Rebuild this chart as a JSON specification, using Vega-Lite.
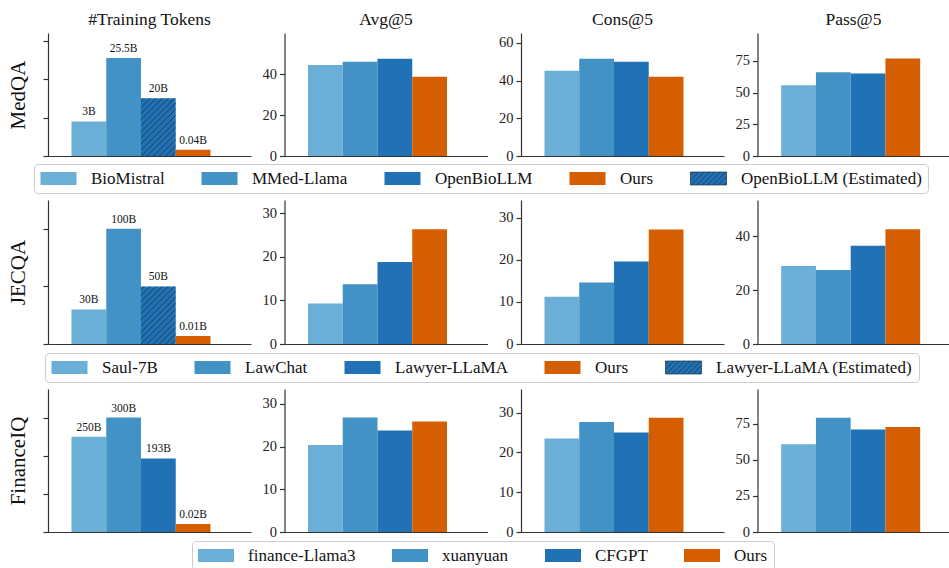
{
  "$schema": "https://vega.github.io/schema/vega-lite/v6.json",
  "background": "white",
  "padding": {"left": 7, "top": 10, "right": 0, "bottom": 0},
  "autosize": {"type": "pad"},
  "spacing": 6,
  "data": {"values": [
    {"ds": "MedQA", "metric": "tokens", "slot": 1, "model": "BioMistral", "value": 9.0, "label": "3B"},
    {"ds": "MedQA", "metric": "tokens", "slot": 2, "model": "MMed-Llama", "value": 25.5, "label": "25.5B"},
    {"ds": "MedQA", "metric": "tokens", "slot": 3, "model": "OpenBioLLM (Estimated)", "value": 15.0, "label": "20B"},
    {"ds": "MedQA", "metric": "tokens", "slot": 4, "model": "Ours", "value": 1.6, "label": "0.04B"},
    {"ds": "MedQA", "metric": "Avg@5", "slot": 1, "model": "BioMistral", "value": 44.4},
    {"ds": "MedQA", "metric": "Avg@5", "slot": 2, "model": "MMed-Llama", "value": 46.0},
    {"ds": "MedQA", "metric": "Avg@5", "slot": 3, "model": "OpenBioLLM", "value": 47.5},
    {"ds": "MedQA", "metric": "Avg@5", "slot": 4, "model": "Ours", "value": 38.7},
    {"ds": "MedQA", "metric": "Cons@5", "slot": 1, "model": "BioMistral", "value": 45.3},
    {"ds": "MedQA", "metric": "Cons@5", "slot": 2, "model": "MMed-Llama", "value": 51.6},
    {"ds": "MedQA", "metric": "Cons@5", "slot": 3, "model": "OpenBioLLM", "value": 50.0},
    {"ds": "MedQA", "metric": "Cons@5", "slot": 4, "model": "Ours", "value": 42.1},
    {"ds": "MedQA", "metric": "Pass@5", "slot": 1, "model": "BioMistral", "value": 55.8},
    {"ds": "MedQA", "metric": "Pass@5", "slot": 2, "model": "MMed-Llama", "value": 66.0},
    {"ds": "MedQA", "metric": "Pass@5", "slot": 3, "model": "OpenBioLLM", "value": 65.0},
    {"ds": "MedQA", "metric": "Pass@5", "slot": 4, "model": "Ours", "value": 76.8},
    {"ds": "JECQA", "metric": "tokens", "slot": 1, "model": "Saul-7B", "value": 30, "label": "30B"},
    {"ds": "JECQA", "metric": "tokens", "slot": 2, "model": "LawChat", "value": 100, "label": "100B"},
    {"ds": "JECQA", "metric": "tokens", "slot": 3, "model": "Lawyer-LLaMA (Estimated)", "value": 50, "label": "50B"},
    {"ds": "JECQA", "metric": "tokens", "slot": 4, "model": "Ours", "value": 7, "label": "0.01B"},
    {"ds": "JECQA", "metric": "Avg@5", "slot": 1, "model": "Saul-7B", "value": 9.3},
    {"ds": "JECQA", "metric": "Avg@5", "slot": 2, "model": "LawChat", "value": 13.7},
    {"ds": "JECQA", "metric": "Avg@5", "slot": 3, "model": "Lawyer-LLaMA", "value": 18.8},
    {"ds": "JECQA", "metric": "Avg@5", "slot": 4, "model": "Ours", "value": 26.3},
    {"ds": "JECQA", "metric": "Cons@5", "slot": 1, "model": "Saul-7B", "value": 11.2},
    {"ds": "JECQA", "metric": "Cons@5", "slot": 2, "model": "LawChat", "value": 14.6},
    {"ds": "JECQA", "metric": "Cons@5", "slot": 3, "model": "Lawyer-LLaMA", "value": 19.6},
    {"ds": "JECQA", "metric": "Cons@5", "slot": 4, "model": "Ours", "value": 27.2},
    {"ds": "JECQA", "metric": "Pass@5", "slot": 1, "model": "Saul-7B", "value": 29.0},
    {"ds": "JECQA", "metric": "Pass@5", "slot": 2, "model": "LawChat", "value": 27.5},
    {"ds": "JECQA", "metric": "Pass@5", "slot": 3, "model": "Lawyer-LLaMA", "value": 36.5},
    {"ds": "JECQA", "metric": "Pass@5", "slot": 4, "model": "Ours", "value": 42.6},
    {"ds": "FinanceIQ", "metric": "tokens", "slot": 1, "model": "finance-Llama3", "value": 250, "label": "250B"},
    {"ds": "FinanceIQ", "metric": "tokens", "slot": 2, "model": "xuanyuan", "value": 300, "label": "300B"},
    {"ds": "FinanceIQ", "metric": "tokens", "slot": 3, "model": "CFGPT", "value": 193, "label": "193B"},
    {"ds": "FinanceIQ", "metric": "tokens", "slot": 4, "model": "Ours", "value": 21, "label": "0.02B"},
    {"ds": "FinanceIQ", "metric": "Avg@5", "slot": 1, "model": "finance-Llama3", "value": 20.4},
    {"ds": "FinanceIQ", "metric": "Avg@5", "slot": 2, "model": "xuanyuan", "value": 26.8},
    {"ds": "FinanceIQ", "metric": "Avg@5", "slot": 3, "model": "CFGPT", "value": 23.8},
    {"ds": "FinanceIQ", "metric": "Avg@5", "slot": 4, "model": "Ours", "value": 25.9},
    {"ds": "FinanceIQ", "metric": "Cons@5", "slot": 1, "model": "finance-Llama3", "value": 23.5},
    {"ds": "FinanceIQ", "metric": "Cons@5", "slot": 2, "model": "xuanyuan", "value": 27.6},
    {"ds": "FinanceIQ", "metric": "Cons@5", "slot": 3, "model": "CFGPT", "value": 25.0},
    {"ds": "FinanceIQ", "metric": "Cons@5", "slot": 4, "model": "Ours", "value": 28.7},
    {"ds": "FinanceIQ", "metric": "Pass@5", "slot": 1, "model": "finance-Llama3", "value": 60.7},
    {"ds": "FinanceIQ", "metric": "Pass@5", "slot": 2, "model": "xuanyuan", "value": 79.1},
    {"ds": "FinanceIQ", "metric": "Pass@5", "slot": 3, "model": "CFGPT", "value": 70.9},
    {"ds": "FinanceIQ", "metric": "Pass@5", "slot": 4, "model": "Ours", "value": 72.7}
  ]},
  "resolve": {"scale": {"color": "independent"}, "legend": {"color": "independent"}},
  "vconcat": [
    {
      "bounds": "flush",
      "spacing": 33.5,
      "hconcat": [
        {
          "width": 203, "height": 123,
          "title": "#Training Tokens",
          "transform": [{"filter": "datum.ds === 'MedQA' && datum.metric === 'tokens'"}],
          "encoding": {
            "x": {"field": "slot", "type": "ordinal", "scale": {"paddingInner": 0, "paddingOuter": 0.921, "align": 0.367}, "axis": {"title": null, "labels": false, "ticks": false}},
            "y": {"field": "value", "type": "quantitative", "scale": {"domain": [0, 32], "nice": false}, "axis": {"values": [0, 10, 20, 30], "labels": false, "title": "MedQA"}}
          },
          "layer": [
            {"mark": {"type": "bar"}, "encoding": {"color": {"field": "model", "type": "nominal",
              "scale": {"domain": ["BioMistral", "MMed-Llama", "OpenBioLLM", "Ours", "OpenBioLLM (Estimated)"], "range": ["#6baed6", "#4292c6", "#2171b5", "#d55e00", "#2171b5"]},
              "legend": {"title": null, "legendX": -14, "legendY": 131,
                "encode": {"symbols": {"update": {
                  "shape": {"signal": "indexof(datum.value, 'Estimated') >= 0 ? 'M-1,-0.36H1V0.36H-1ZM-0.84,-0.36L-1,-0.2M-0.54,-0.36L-1,0.1M-0.24,-0.36L-0.96,0.36M0.06,-0.36L-0.66,0.36M0.36,-0.36L-0.36,0.36M0.66,-0.36L-0.06,0.36M0.96,-0.36L0.24,0.36M1,-0.1L0.54,0.36M1,0.2L0.84,0.36' : 'M-1,-0.36H1V0.36H-1Z'"},
                  "stroke": {"signal": "indexof(datum.value, 'Estimated') >= 0 ? '#1c3047' : 'transparent'"},
                  "strokeWidth": {"value": 0.7}}}}}}}},
            {"transform": [{"filter": "indexof(datum.model, 'Estimated') >= 0"}],
             "mark": {"type": "point", "shape": "M-0.825,0L-1,0.175M-0.475,0L-1,0.525M-0.125,0L-1,0.875M0.225,0L-1,1.225M0.575,0L-1,1.575M0.925,0L-1,1.925M1,0.275L-1,2.275M1,0.625L-1,2.625M1,0.975L-1,2.975M1,1.325L-0.985,3.31M1,1.675L-0.635,3.31M1,2.025L-0.285,3.31M1,2.375L0.065,3.31M1,2.725L0.415,3.31M1,3.075L0.765,3.31", "filled": false, "stroke": "#1c3047", "strokeWidth": 0.8, "size": 1207.6, "opacity": 1}},
            {"mark": {"type": "text", "dy": -6, "baseline": "alphabetic", "font": "Liberation Serif", "fontSize": 11.5, "color": "#111111"}, "encoding": {"text": {"field": "label"}}}
          ]
        },
        {
          "width": 203, "height": 123, "title": "Avg@5",
          "transform": [{"filter": "datum.ds === 'MedQA' && datum.metric === 'Avg@5'"}],
          "mark": "bar",
          "encoding": {
            "x": {"field": "slot", "type": "ordinal", "scale": {"paddingInner": 0, "paddingOuter": 0.921, "align": 0.367}, "axis": {"title": null, "labels": false, "ticks": false}},
            "y": {"field": "value", "type": "quantitative", "scale": {"domain": [0, 60], "nice": false}, "axis": {"values": [0, 20, 40], "title": null}},
            "color": {"field": "model", "type": "nominal", "scale": {"domain": ["BioMistral", "MMed-Llama", "OpenBioLLM", "Ours", "OpenBioLLM (Estimated)"], "range": ["#6baed6", "#4292c6", "#2171b5", "#d55e00", "#2171b5"]}, "legend": null}
          }
        },
        {
          "width": 203, "height": 123, "title": "Cons@5",
          "transform": [{"filter": "datum.ds === 'MedQA' && datum.metric === 'Cons@5'"}],
          "mark": "bar",
          "encoding": {
            "x": {"field": "slot", "type": "ordinal", "scale": {"paddingInner": 0, "paddingOuter": 0.921, "align": 0.367}, "axis": {"title": null, "labels": false, "ticks": false}},
            "y": {"field": "value", "type": "quantitative", "scale": {"domain": [0, 65.3], "nice": false}, "axis": {"values": [0, 20, 40, 60], "title": null}},
            "color": {"field": "model", "type": "nominal", "scale": {"domain": ["BioMistral", "MMed-Llama", "OpenBioLLM", "Ours", "OpenBioLLM (Estimated)"], "range": ["#6baed6", "#4292c6", "#2171b5", "#d55e00", "#2171b5"]}, "legend": null}
          }
        },
        {
          "width": 192, "height": 123, "title": "Pass@5",
          "transform": [{"filter": "datum.ds === 'MedQA' && datum.metric === 'Pass@5'"}],
          "mark": "bar",
          "encoding": {
            "x": {"field": "slot", "type": "ordinal", "scale": {"paddingInner": 0, "paddingOuter": 0.7626, "align": 0.447}, "axis": {"title": null, "labels": false, "ticks": false}},
            "y": {"field": "value", "type": "quantitative", "scale": {"domain": [0, 97], "nice": false}, "axis": {"values": [0, 25, 50, 75], "title": null}},
            "color": {"field": "model", "type": "nominal", "scale": {"domain": ["BioMistral", "MMed-Llama", "OpenBioLLM", "Ours", "OpenBioLLM (Estimated)"], "range": ["#6baed6", "#4292c6", "#2171b5", "#d55e00", "#2171b5"]}, "legend": null}
          }
        }
      ]
    },
    {
      "bounds": "flush",
      "spacing": 33.5,
      "hconcat": [
        {
          "width": 203, "height": 144,
          "transform": [{"filter": "datum.ds === 'JECQA' && datum.metric === 'tokens'"}],
          "encoding": {
            "x": {"field": "slot", "type": "ordinal", "scale": {"paddingInner": 0, "paddingOuter": 0.921, "align": 0.367}, "axis": {"title": null, "labels": false, "ticks": false}},
            "y": {"field": "value", "type": "quantitative", "scale": {"domain": [0, 125], "nice": false}, "axis": {"values": [0, 50, 100], "labels": false, "title": "JECQA"}}
          },
          "layer": [
            {"mark": {"type": "bar"}, "encoding": {"color": {"field": "model", "type": "nominal",
              "scale": {"domain": ["Saul-7B", "LawChat", "Lawyer-LLaMA", "Ours", "Lawyer-LLaMA (Estimated)"], "range": ["#6baed6", "#4292c6", "#2171b5", "#d55e00", "#2171b5"]},
              "legend": {"title": null, "legendX": -3, "legendY": 153,
                "encode": {"symbols": {"update": {
                  "shape": {"signal": "indexof(datum.value, 'Estimated') >= 0 ? 'M-1,-0.36H1V0.36H-1ZM-0.84,-0.36L-1,-0.2M-0.54,-0.36L-1,0.1M-0.24,-0.36L-0.96,0.36M0.06,-0.36L-0.66,0.36M0.36,-0.36L-0.36,0.36M0.66,-0.36L-0.06,0.36M0.96,-0.36L0.24,0.36M1,-0.1L0.54,0.36M1,0.2L0.84,0.36' : 'M-1,-0.36H1V0.36H-1Z'"},
                  "stroke": {"signal": "indexof(datum.value, 'Estimated') >= 0 ? '#1c3047' : 'transparent'"},
                  "strokeWidth": {"value": 0.7}}}}}}}},
            {"transform": [{"filter": "indexof(datum.model, 'Estimated') >= 0"}],
             "mark": {"type": "point", "shape": "M-0.825,0L-1,0.175M-0.475,0L-1,0.525M-0.125,0L-1,0.875M0.225,0L-1,1.225M0.575,0L-1,1.575M0.925,0L-1,1.925M1,0.275L-1,2.275M1,0.625L-1,2.625M1,0.975L-1,2.975M1,1.325L-0.985,3.31M1,1.675L-0.635,3.31M1,2.025L-0.285,3.31M1,2.375L0.065,3.31M1,2.725L0.415,3.31M1,3.075L0.765,3.31", "filled": false, "stroke": "#1c3047", "strokeWidth": 0.8, "size": 1207.6, "opacity": 1}},
            {"mark": {"type": "text", "dy": -6, "baseline": "alphabetic", "font": "Liberation Serif", "fontSize": 11.5, "color": "#111111"}, "encoding": {"text": {"field": "label"}}}
          ]
        },
        {
          "width": 203, "height": 144,
          "transform": [{"filter": "datum.ds === 'JECQA' && datum.metric === 'Avg@5'"}],
          "mark": "bar",
          "encoding": {
            "x": {"field": "slot", "type": "ordinal", "scale": {"paddingInner": 0, "paddingOuter": 0.921, "align": 0.367}, "axis": {"title": null, "labels": false, "ticks": false}},
            "y": {"field": "value", "type": "quantitative", "scale": {"domain": [0, 33], "nice": false}, "axis": {"values": [0, 10, 20, 30], "title": null}},
            "color": {"field": "model", "type": "nominal", "scale": {"domain": ["Saul-7B", "LawChat", "Lawyer-LLaMA", "Ours", "Lawyer-LLaMA (Estimated)"], "range": ["#6baed6", "#4292c6", "#2171b5", "#d55e00", "#2171b5"]}, "legend": null}
          }
        },
        {
          "width": 203, "height": 144,
          "transform": [{"filter": "datum.ds === 'JECQA' && datum.metric === 'Cons@5'"}],
          "mark": "bar",
          "encoding": {
            "x": {"field": "slot", "type": "ordinal", "scale": {"paddingInner": 0, "paddingOuter": 0.921, "align": 0.367}, "axis": {"title": null, "labels": false, "ticks": false}},
            "y": {"field": "value", "type": "quantitative", "scale": {"domain": [0, 34.2], "nice": false}, "axis": {"values": [0, 10, 20, 30], "title": null}},
            "color": {"field": "model", "type": "nominal", "scale": {"domain": ["Saul-7B", "LawChat", "Lawyer-LLaMA", "Ours", "Lawyer-LLaMA (Estimated)"], "range": ["#6baed6", "#4292c6", "#2171b5", "#d55e00", "#2171b5"]}, "legend": null}
          }
        },
        {
          "width": 192, "height": 144,
          "transform": [{"filter": "datum.ds === 'JECQA' && datum.metric === 'Pass@5'"}],
          "mark": "bar",
          "encoding": {
            "x": {"field": "slot", "type": "ordinal", "scale": {"paddingInner": 0, "paddingOuter": 0.7626, "align": 0.447}, "axis": {"title": null, "labels": false, "ticks": false}},
            "y": {"field": "value", "type": "quantitative", "scale": {"domain": [0, 53.5], "nice": false}, "axis": {"values": [0, 20, 40], "title": null}},
            "color": {"field": "model", "type": "nominal", "scale": {"domain": ["Saul-7B", "LawChat", "Lawyer-LLaMA", "Ours", "Lawyer-LLaMA (Estimated)"], "range": ["#6baed6", "#4292c6", "#2171b5", "#d55e00", "#2171b5"]}, "legend": null}
          }
        }
      ]
    },
    {
      "bounds": "flush",
      "spacing": 33.5,
      "hconcat": [
        {
          "width": 203, "height": 143,
          "transform": [{"filter": "datum.ds === 'FinanceIQ' && datum.metric === 'tokens'"}],
          "encoding": {
            "x": {"field": "slot", "type": "ordinal", "scale": {"paddingInner": 0, "paddingOuter": 0.921, "align": 0.367}, "axis": {"title": null, "labels": false, "ticks": false}},
            "y": {"field": "value", "type": "quantitative", "scale": {"domain": [0, 375], "nice": false}, "axis": {"values": [0, 100, 200, 300], "labels": false, "title": "FinanceIQ"}}
          },
          "layer": [
            {"mark": {"type": "bar"}, "encoding": {"color": {"field": "model", "type": "nominal",
              "scale": {"domain": ["finance-Llama3", "xuanyuan", "CFGPT", "Ours"], "range": ["#6baed6", "#4292c6", "#2171b5", "#d55e00"]},
              "legend": {"title": null, "legendX": 144, "legendY": 152}}}},
            {"mark": {"type": "text", "dy": -6, "baseline": "alphabetic", "font": "Liberation Serif", "fontSize": 11.5, "color": "#111111"}, "encoding": {"text": {"field": "label"}}}
          ]
        },
        {
          "width": 203, "height": 143,
          "transform": [{"filter": "datum.ds === 'FinanceIQ' && datum.metric === 'Avg@5'"}],
          "mark": "bar",
          "encoding": {
            "x": {"field": "slot", "type": "ordinal", "scale": {"paddingInner": 0, "paddingOuter": 0.921, "align": 0.367}, "axis": {"title": null, "labels": false, "ticks": false}},
            "y": {"field": "value", "type": "quantitative", "scale": {"domain": [0, 33.5], "nice": false}, "axis": {"values": [0, 10, 20, 30], "title": null}},
            "color": {"field": "model", "type": "nominal", "scale": {"domain": ["finance-Llama3", "xuanyuan", "CFGPT", "Ours"], "range": ["#6baed6", "#4292c6", "#2171b5", "#d55e00"]}, "legend": null}
          }
        },
        {
          "width": 203, "height": 143,
          "transform": [{"filter": "datum.ds === 'FinanceIQ' && datum.metric === 'Cons@5'"}],
          "mark": "bar",
          "encoding": {
            "x": {"field": "slot", "type": "ordinal", "scale": {"paddingInner": 0, "paddingOuter": 0.921, "align": 0.367}, "axis": {"title": null, "labels": false, "ticks": false}},
            "y": {"field": "value", "type": "quantitative", "scale": {"domain": [0, 35.9], "nice": false}, "axis": {"values": [0, 10, 20, 30], "title": null}},
            "color": {"field": "model", "type": "nominal", "scale": {"domain": ["finance-Llama3", "xuanyuan", "CFGPT", "Ours"], "range": ["#6baed6", "#4292c6", "#2171b5", "#d55e00"]}, "legend": null}
          }
        },
        {
          "width": 192, "height": 143,
          "transform": [{"filter": "datum.ds === 'FinanceIQ' && datum.metric === 'Pass@5'"}],
          "mark": "bar",
          "encoding": {
            "x": {"field": "slot", "type": "ordinal", "scale": {"paddingInner": 0, "paddingOuter": 0.7626, "align": 0.447}, "axis": {"title": null, "labels": false, "ticks": false}},
            "y": {"field": "value", "type": "quantitative", "scale": {"domain": [0, 98.9], "nice": false}, "axis": {"values": [0, 25, 50, 75], "title": null}},
            "color": {"field": "model", "type": "nominal", "scale": {"domain": ["finance-Llama3", "xuanyuan", "CFGPT", "Ours"], "range": ["#6baed6", "#4292c6", "#2171b5", "#d55e00"]}, "legend": null}
          }
        }
      ]
    }
  ],
  "config": {
    "view": {"stroke": null},
    "font": "Liberation Serif",
    "axis": {"domainColor": "#333333", "domainWidth": 1.2, "tickColor": "#333333", "tickWidth": 1.2, "tickSize": 5, "labelFont": "Liberation Serif", "labelFontSize": 14.5, "labelColor": "#222222", "labelPadding": 3, "grid": false, "titleFont": "Liberation Serif", "titleFontSize": 21, "titleFontWeight": "normal", "titleColor": "#111111", "titlePadding": 14},
    "title": {"font": "Liberation Serif", "fontSize": 17.5, "fontWeight": "normal", "color": "#111111", "offset": 5, "frame": "group", "anchor": "middle"},
    "legend": {"orient": "none", "direction": "horizontal", "columns": 5, "gridAlign": "each", "symbolType": "M-1,-0.36H1V0.36H-1Z", "symbolSize": 1296, "symbolStrokeWidth": 0, "clipHeight": 17, "labelFont": "Liberation Serif", "labelFontSize": 17, "labelColor": "#111111", "labelOffset": 14, "labelLimit": 400, "columnPadding": 36, "padding": 6, "strokeColor": "#cccccc", "fillColor": "rgba(255,255,255,0.85)", "cornerRadius": 4}
  }
}
